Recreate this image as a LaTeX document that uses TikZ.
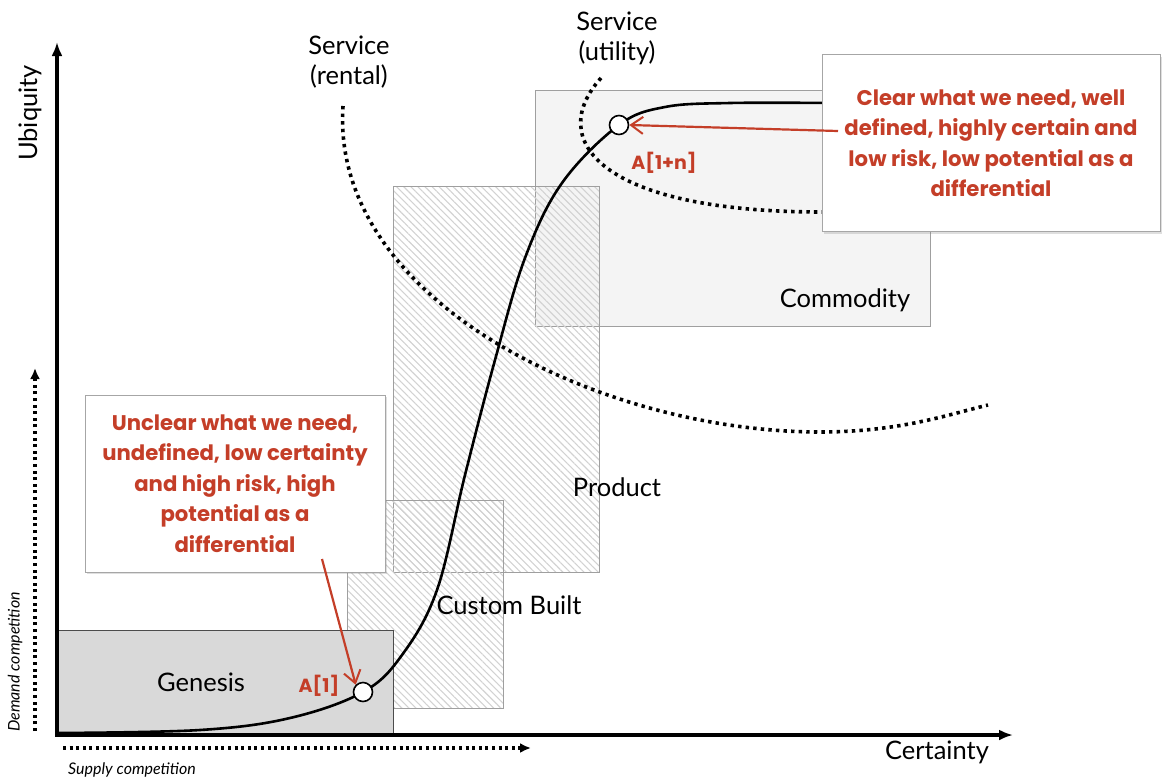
\documentclass[tikz,border=0pt]{standalone}
\usepackage{fontspec}
\setmainfont{Lato}
\newfontfamily\notefont{Poppins}
\usetikzlibrary{arrows.meta,patterns.meta,shadows}

\definecolor{notered}{RGB}{196,62,40}
\definecolor{genfill}{RGB}{217,217,217}
\definecolor{comfill}{RGB}{244,244,244}

\begin{document}
\begin{tikzpicture}[
    x=1pt, y=-1pt,
    font=\fontsize{25.5}{30}\selectfont,
    >=Latex,
    axis/.style={line width=3.2pt, -{Latex[length=14pt,width=11pt]}},
    compete/.style={line width=3.4pt, dash pattern=on 3pt off 3.6pt, -{Latex[length=11pt,width=10pt]}},
    region/.style={draw=gray!75, line width=1pt, inner sep=0pt},
    hatched/.style={region, pattern={Lines[angle=-45,distance=5pt,line width=1.1pt]}, pattern color=gray!35},
    callout/.style={draw=gray!70, line width=0.8pt, fill=white, inner sep=0pt,
        drop shadow={opacity=0.25, shadow xshift=2pt, shadow yshift=-2pt}},
    note/.style={text=notered, font=\notefont\bfseries\fontsize{21.2}{30.5}\selectfont, align=center},
    pointer/.style={draw=notered, line width=2.2pt, -{Straight Barb[length=12pt,width=17pt,line width=2pt]}},
    evo/.style={line width=2.6pt},
    market/.style={line width=3.6pt, dash pattern=on 3.4pt off 4.2pt},
    stage/.style={circle, draw, fill=white, line width=1.6pt, minimum size=19pt, inner sep=0pt},
    sidelbl/.style={font=\itshape\fontsize{16}{18}\selectfont}
]
\useasboundingbox (0,0) rectangle (1167,780);

% evolution stages
\node[region, fill=comfill, minimum width=395pt, minimum height=236pt] (commodity) at (732.5,208) {};
\node[hatched, minimum width=206pt, minimum height=386pt] (product) at (496,379) {};
\node[hatched, minimum width=156pt, minimum height=208pt] (custom) at (425,604) {};
\node[region, draw=gray!60!black, fill=genfill, minimum width=336pt, minimum height=105pt] (genesis) at (225,682.5) {};

\node (commoditylbl) at (845,300) {Commodity};
\node (productlbl) at (617,487) {Product};
\node (customlbl) at (509,605) {Custom Built};
\node (genesislbl) at (201,682) {Genesis};

% axes
\coordinate (origin) at (55,735);
\coordinate (ytip) at (57,42);
\coordinate (xtip) at (1013,735);
\draw[axis] (origin) -- (xtip);
\draw[axis] (57,736.5) -- (ytip);
\node[rotate=90] (ubiquity) at (30,113) {Ubiquity};
\node (certainty) at (937,752) {Certainty};

% competition
\coordinate (demandfoot) at (35,731);
\coordinate (demandtip) at (35,368);
\coordinate (supplyfoot) at (63,748);
\coordinate (supplytip) at (531,748);
\draw[compete] (demandfoot) -- (demandtip);
\draw[compete] (supplyfoot) -- (supplytip);
\node[rotate=90, sidelbl] (demandlbl) at (15,662) {Demand competition};
\node[sidelbl] (supplylbl) at (132,770) {Supply competition};

% service boundaries
\coordinate (rentaltop) at (343,106);
\coordinate (rentalend) at (988,405);
\coordinate (utilitytop) at (601,78);
\draw[market] (rentaltop) .. controls (330,300) and (600,432) .. (820,432)
    .. controls (900,432) and (950,414) .. (rentalend);
\draw[market] (utilitytop) .. controls (545,140) and (600,212) .. (822,212);
\node[align=center] (rental) at (349,62) {Service\\(rental)};
\node[align=center] (utility) at (617,38) {Service\\(utility)};

% evolution curve
\draw[evo] plot[smooth, tension=0.6] coordinates {(57,733) (200,730) (290,718) (363,692) (402,655)
    (437,590) (465,475) (495,360) (525,258) (562,183) (619,125) (665,107) (730,103) (830,103)};
\node[stage] (aone) at (363,692) {};
\node[stage] (aonen) at (619,125) {};
\node[note, font=\notefont\bfseries\fontsize{19}{22}\selectfont] (aonelbl) at (319,686) {A[1]};
\node[note, font=\notefont\bfseries\fontsize{19}{22}\selectfont] (aonenlbl) at (664,163) {A[1+n]};

% callouts
\node[callout, minimum width=338pt, minimum height=177pt] (clearbox) at (991,143) {};
\node[note] (clear) at (clearbox.center) {Clear what we need, well\\defined, highly certain and\\low risk, low potential as a\\differential};
\node[callout, minimum width=300pt, minimum height=177pt] (unclearbox) at (235,483.5) {};
\node[note] (unclear) at (unclearbox.center) {Unclear what we need,\\undefined, low certainty\\and high risk, high\\potential as a\\differential};

\coordinate (clearfoot) at (838,131);
\coordinate (unclearfoot) at (322,559);
\draw[pointer] (clearfoot) -- (aonen.east);
\draw[pointer] (unclearfoot) -- (aone.north west);
\end{tikzpicture}
\end{document}
